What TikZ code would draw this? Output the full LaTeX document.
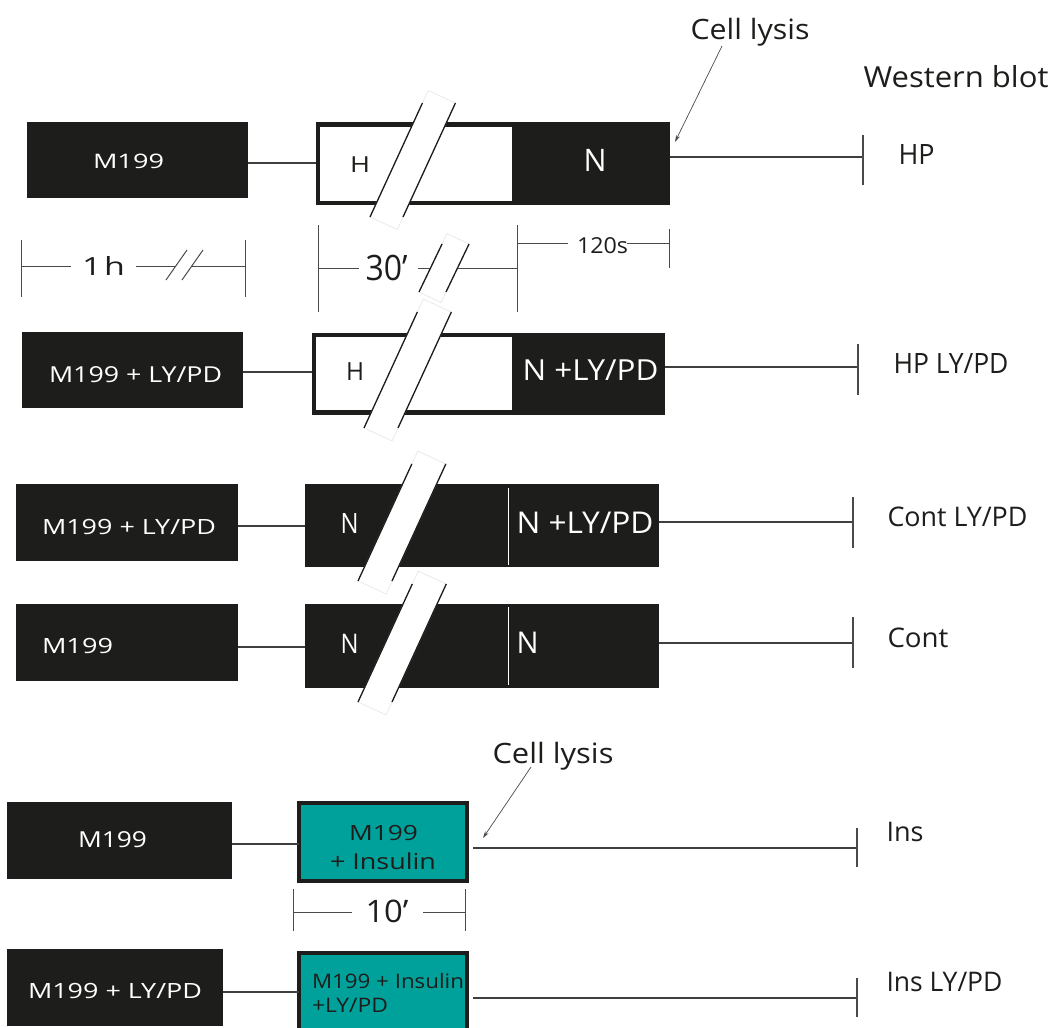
\documentclass[tikz,border=0pt]{standalone}
\usepackage{fontspec}
\setmainfont{Open Sans}
\usepackage{graphicx}
\usetikzlibrary{arrows.meta}
\definecolor{ink}{HTML}{1D1D1B}
\definecolor{tealbox}{HTML}{00A19A}
\definecolor{dimgray}{HTML}{4A4A4A}
\newcommand\lbl[3]{\resizebox{#1pt}{\height}{\fontsize{#2pt}{#2pt}\selectfont #3}}
% name, x of left line bottom, y bottom, y top, horizontal width, slope dx/dy
\newcommand\breakband[6]{%
  \pgfmathsetmacro\bbdy{#3-#4}%
  \pgfmathsetmacro\bbth{atan(1/#6)}%
  \pgfmathsetmacro\bbcx{#2+#5/2+#6*\bbdy/2}%
  \pgfmathsetmacro\bbcy{(#3+#4)/2}%
  \pgfmathsetmacro\bbL{\bbdy/sin(\bbth)+#5*cos(\bbth)}%
  \pgfmathsetmacro\bbW{#5*sin(\bbth)}%
  \pgfmathsetmacro\bbxt{#2+#6*\bbdy}%
  \node[bandrect,rotate=\bbth,minimum width=\bbL,minimum height=\bbW] (#1) at (\bbcx,\bbcy) {};
  \draw[bandline] (#2,#3) -- (\bbxt,#4);
  \draw[bandline] (#2+#5,#3) -- (\bbxt+#5,#4);
}
\begin{document}
\begin{tikzpicture}[x=1pt,y=-1pt,
  blackbox/.style={fill=ink,inner sep=0pt,outer sep=0pt},
  whitepart/.style={fill=white,inner sep=0pt,outer sep=0pt},
  tealnode/.style={fill=tealbox,draw=ink,line width=4pt,inner sep=0pt,outer sep=0pt},
  lab/.style={inner sep=0pt,outer sep=0pt,anchor=base west,text=ink},
  wlab/.style={lab,text=white},
  conn/.style={draw=ink!85,line width=1.4pt},
  tbar/.style={draw=ink!80,line width=1.4pt},
  dimline/.style={draw=dimgray,line width=1pt},
  bandrect/.style={fill=white,draw=black!10,line width=0.6pt,inner sep=0pt,outer sep=0pt},
  bandline/.style={draw=ink,line width=1.3pt},
  lysisarrow/.style={draw=ink!80,line width=0.7pt,-{Stealth[length=7pt,width=4pt]}}
]
\fill[white] (0,0) rectangle (1050,1028);
\useasboundingbox (0,0) rectangle (1050,1028);

% ---------- boxes ----------
\node[blackbox,minimum width=221,minimum height=76] (m1) at (137.5,160) {};
\node[blackbox,minimum width=354,minimum height=83] (b1) at (493,163.5) {};
\node[whitepart,minimum width=192,minimum height=74] (w1) at (416,164) {};

\node[blackbox,minimum width=221,minimum height=76] (m2) at (132.5,370) {};
\node[blackbox,minimum width=353,minimum height=82] (b2) at (488.5,374) {};
\node[whitepart,minimum width=196,minimum height=73] (w2) at (414,373.5) {};

\node[blackbox,minimum width=222,minimum height=77] (m3) at (127,522.5) {};
\node[blackbox,minimum width=354,minimum height=83] (b3) at (482,525.5) {};
\draw[white,line width=1pt] (508,488) -- (508,565);

\node[blackbox,minimum width=222,minimum height=77] (m4) at (127,642.5) {};
\node[blackbox,minimum width=354,minimum height=84] (b4) at (482,646) {};
\draw[white,line width=1pt] (508,607) -- (508,685);

\node[blackbox,minimum width=225,minimum height=77] (m5) at (119.5,840.5) {};
\node[tealnode,minimum width=168,minimum height=78] (t5) at (383,842) {};

\node[blackbox,minimum width=216,minimum height=77] (m6) at (115,987.5) {};
\node[tealnode,minimum width=168,minimum height=87] (t6) at (383,996.5) {};

% ---------- connectors ----------
\coordinate (y1) at (0,163);
\coordinate (y2) at (0,372);
\coordinate (y3) at (0,526);
\coordinate (y4) at (0,647);
\coordinate (y5) at (0,844);
\coordinate (y6) at (0,992);
\draw[conn] (m1.east |- y1) -- (b1.west |- y1);
\draw[conn] (m2.east |- y2) -- (b2.west |- y2);
\draw[conn] (m3.east |- y3) -- (b3.west |- y3);
\draw[conn] (m4.east |- y4) -- (b4.west |- y4);
\draw[conn] (m5.east |- y5) -- (t5.west |- y5);
\draw[conn] (m6.east |- y6) -- (t6.west |- y6);

\coordinate (e1) at (863,157);
\coordinate (e2) at (858,367);
\coordinate (e3) at (853,522);
\coordinate (e4) at (853,643);
\coordinate (e5) at (857,848);
\coordinate (e6) at (857,998);
\draw[conn] (b1.east |- e1) -- (e1);
\draw[conn] (b2.east |- e2) -- (e2);
\draw[conn] (b3.east |- e3) -- (e3);
\draw[conn] (b4.east |- e4) -- (e4);
\draw[conn] ([xshift=6pt]t5.east |- e5) -- (e5);
\draw[conn] ([xshift=6pt]t6.east |- e6) -- (e6);
\draw[tbar] ([yshift=22pt]e1) -- ([yshift=-28pt]e1);
\draw[tbar] ([yshift=23pt]e2) -- ([yshift=-28pt]e2);
\draw[tbar] ([yshift=25pt]e3) -- ([yshift=-26pt]e3);
\draw[tbar] ([yshift=26pt]e4) -- ([yshift=-25pt]e4);
\draw[tbar] ([yshift=20pt]e5) -- ([yshift=-19pt]e5);
\draw[tbar] ([yshift=20pt]e6) -- ([yshift=-19pt]e6);

% ---------- dimension lines ----------
% 1h
\draw[dimline] (21,240) -- (21,297);
\draw[dimline] (245,240) -- (245,297);
\draw[dimline] (21,266) -- (71,266);
\draw[dimline] (136,266) -- (176,266);
\draw[dimline] (192,266) -- (245,266);
\draw[dimline] (166,280) -- (187,250);
\draw[dimline] (182,280) -- (203,250);
% 30'
\draw[dimline] (318,225) -- (318,312);
\draw[dimline] (517,225) -- (517,312);
\draw[dimline] (318,268) -- (359,268);
\draw[dimline] (418,268) -- (517,268);
% 120s
\draw[dimline] (517,243) -- (568,243);
\draw[dimline] (627,243) -- (669,243);
\draw[dimline] (669,229) -- (669,268);
% 10'
\draw[dimline] (293,889) -- (293,931);
\draw[dimline] (465,889) -- (465,931);
\draw[dimline] (293,912) -- (352,912);
\draw[dimline] (423,912) -- (465,912);

% ---------- break bands ----------
\breakband{sA}{370}{217}{103}{33}{0.46}
\breakband{sB}{419}{292}{244}{27}{0.48}
\breakband{sC}{364}{428}{312}{34}{0.46}
\breakband{sD}{358}{581}{464}{34}{0.46}
\breakband{sE}{358}{702}{584}{34}{0.46}

% ---------- labels ----------
\node[lab] (cl1) at (690.5,39) {\lbl{119}{28}{Cell lysis}};
\node[lab] (wb) at (863.5,87) {\lbl{185}{29}{Western blot}};
\node[lab] (hp) at (898.5,164) {\lbl{36}{28}{HP}};
\node[lab] (hply) at (893.5,373) {\lbl{115}{28}{HP LY/PD}};
\node[lab] (cly) at (887.5,526) {\lbl{140}{27}{Cont LY/PD}};
\node[lab] (cont) at (887.5,647) {\lbl{61}{27}{Cont}};
\node[lab] (ins) at (886.5,841) {\lbl{37}{27}{Ins}};
\node[lab] (insly) at (886.5,991) {\lbl{116}{27}{Ins LY/PD}};
\node[lab] (cl2) at (492.5,763) {\lbl{121}{28}{Cell lysis}};

\node[wlab] (l1) at (93,168) {\lbl{71}{20}{M199}};
\node[lab] (h1) at (350,172) {\lbl{20}{22}{H}};
\node[wlab] (n1) at (583.5,171) {\lbl{23}{31}{N}};

\node[lab] (d1) at (82,275) {\lbl{43}{25}{1\kern0.08em h}};
\node[lab] (d2) at (365.5,280) {\lbl{42}{35}{30’}};
\node[lab] (d3) at (577,253) {\lbl{51}{22}{120s}};

\node[wlab] (l2) at (49,382) {\lbl{173}{22}{M199 + LY/PD}};
\node[lab] (h2) at (346,380) {\lbl{18}{25}{H}};
\node[wlab] (n2) at (522.5,380) {\lbl{136}{29}{N +LY/PD}};

\node[wlab] (l3) at (42,534) {\lbl{174}{21}{M199 + LY/PD}};
\node[wlab] (n3a) at (340.5,533) {\lbl{18}{28}{N}};
\node[wlab] (n3b) at (516.5,533) {\lbl{137}{30}{N +LY/PD}};

\node[wlab] (l4) at (42,653) {\lbl{71}{21}{M199}};
\node[wlab] (n4a) at (340.5,653) {\lbl{18}{27}{N}};
\node[wlab] (n4b) at (516.5,653) {\lbl{22}{30}{N}};

\node[wlab] (l5) at (78,847) {\lbl{69}{22}{M199}};
\node[lab] (t5a) at (349,840) {\lbl{69}{21}{M199}};
\node[lab] (t5b) at (330,869) {\lbl{106}{22}{+ Insulin}};
\node[lab] (d4) at (365.5,922) {\lbl{43}{31}{10’}};

\node[wlab] (l6) at (28,998) {\lbl{174}{21}{M199 + LY/PD}};
\node[lab] (t6a) at (312,988) {\lbl{152}{20}{M199 + Insulin}};
\node[lab] (t6b) at (312,1012) {\lbl{76}{20}{+LY/PD}};

% ---------- cell lysis arrows ----------
\coordinate (a1s) at (722,46);
\coordinate (a1e) at (675,142);
\coordinate (a2s) at (531,767);
\coordinate (a2e) at (483,838);
\draw[lysisarrow] (a1s) -- (a1e);
\draw[lysisarrow] (a2s) -- (a2e);
\end{tikzpicture}
\end{document}
